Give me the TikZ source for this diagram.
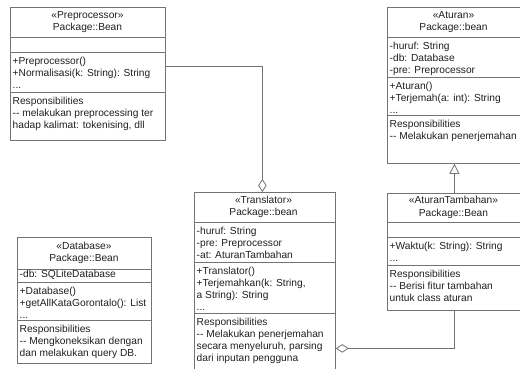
\documentclass[tikz,border=0pt]{standalone}
\usepackage{fontspec}
\setmainfont{Liberation Sans}
\usetikzlibrary{arrows.meta}
\definecolor{umlline}{gray}{0.45}
\definecolor{umltext}{gray}{0.12}

\begin{document}
\begin{tikzpicture}[
    x=1pt, y=-1pt,
    cls/.style={draw=umlline, line width=0.8pt, anchor=north west, inner sep=0pt},
    div/.style={draw=umlline, line width=0.8pt},
    hdr/.style={align=center, inner sep=0pt, text=umltext, font=\fontsize{10.2}{12.5}\selectfont},
    sec/.style={anchor=north west, align=left, inner xsep=2pt, inner ysep=0pt, text=umltext, font=\fontsize{10.2}{12}\selectfont},
    agg/.style={draw=umlline, line width=0.8pt, -{Diamond[open, length=13pt, width=8.5pt]}},
    gen/.style={draw=umlline, line width=0.8pt, -{Triangle[open, length=10pt, width=10pt]}},
]
\useasboundingbox (0,0) rectangle (520,369);

% Preprocessor
\node[cls, minimum width=155pt, minimum height=133pt] (pre) at (10,7) {};
\draw[div] (pre.west |- 0,37) -- (pre.east |- 0,37);
\draw[div] (pre.west |- 0,52) -- (pre.east |- 0,52);
\draw[div] (pre.west |- 0,92) -- (pre.east |- 0,92);
\node[hdr] (pre-hdr) at (87.5,22) {«Preprocessor»\\Package::Bean};
\node[sec] (pre-ops) at (10.5,56.5) {+Preprocessor()\\+Normalisasi(k: String): String\\...};
\node[sec] (pre-resp) at (10.5,96.5) {Responsibilities\\-{}- melakukan preprocessing ter\\hadap kalimat: tokenising, dll};

% Aturan
\node[cls, minimum width=134pt, minimum height=156pt] (atr) at (387,7) {};
\draw[div] (atr.west |- 0,37) -- (atr.east |- 0,37);
\draw[div] (atr.west |- 0,77) -- (atr.east |- 0,77);
\draw[div] (atr.west |- 0,115) -- (atr.east |- 0,115);
\node[hdr] (atr-hdr) at (453.5,22) {«Aturan»\\Package::bean};
\node[sec] (atr-attr) at (387.5,41.5) {-huruf: String\\-db: Database\\-pre: Preprocessor};
\node[sec] (atr-ops) at (387.5,81.5) {+Aturan()\\+Terjemah(a: int): String\\...};
\node[sec] (atr-resp) at (387.5,119.5) {Responsibilities\\-{}- Melakukan penerjemahan};

% AturanTambahan
\node[cls, minimum width=134pt, minimum height=117pt] (atb) at (387,193) {};
\draw[div] (atb.west |- 0,222) -- (atb.east |- 0,222);
\draw[div] (atb.west |- 0,237) -- (atb.east |- 0,237);
\draw[div] (atb.west |- 0,265) -- (atb.east |- 0,265);
\node[hdr] (atb-hdr) at (453.5,207.5) {«AturanTambahan»\\Package::Bean};
\node[sec] (atb-ops) at (387.5,241.5) {+Waktu(k: String): String\\...};
\node[sec] (atb-resp) at (387.5,269.5) {Responsibilities\\-{}- Berisi fitur tambahan\\untuk class aturan};

% Translator
\node[cls, minimum width=141pt, minimum height=180pt] (trn) at (194,192) {};
\draw[div] (trn.west |- 0,222) -- (trn.east |- 0,222);
\draw[div] (trn.west |- 0,262) -- (trn.east |- 0,262);
\draw[div] (trn.west |- 0,313) -- (trn.east |- 0,313);
\node[hdr] (trn-hdr) at (263.5,207) {«Translator»\\Package::bean};
\node[sec] (trn-attr) at (194.5,226.5) {-huruf: String\\-pre: Preprocessor\\-at: AturanTambahan};
\node[sec] (trn-ops) at (194.5,266.5) {+Translator()\\+Terjemahkan(k: String,\\a String): String\\...};
\node[sec] (trn-resp) at (194.5,317.5) {Responsibilities\\-{}- Melakukan penerjemahan\\secara menyeluruh, parsing\\dari inputan pengguna};

% Database
\node[cls, minimum width=134pt, minimum height=126pt] (db) at (17,237) {};
\draw[div] (db.west |- 0,269) -- (db.east |- 0,269);
\draw[div] (db.west |- 0,282) -- (db.east |- 0,282);
\draw[div] (db.west |- 0,320) -- (db.east |- 0,320);
\node[hdr] (db-hdr) at (84,253) {«Database»\\Package::Bean};
\node[sec] (db-attr) at (17.5,270) {-db: SQLiteDatabase};
\node[sec] (db-ops) at (17.5,286.5) {+Database()\\+getAllKataGorontalo(): List\\...};
\node[sec] (db-resp) at (17.5,324.5) {Responsibilities\\-{}- Mengkoneksikan dengan\\dan melakukan query DB.};

% connectors
\draw[agg] ([yshift=7.5pt]pre.east) -| ([xshift=-2.5pt]trn.north);
\draw[agg] (atb.south) |- ([yshift=-66pt]trn.east);
\draw[gen] (atb.north) -- (atr.south);
\end{tikzpicture}
\end{document}
